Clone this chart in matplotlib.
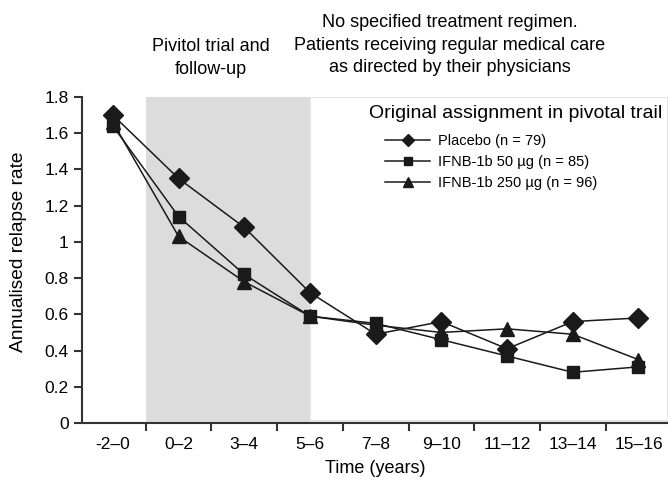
import matplotlib.pyplot as plt
import matplotlib.patches as mpatches
import numpy as np

plt.rcParams['font.family'] = ['Liberation Sans', 'DejaVu Sans']

periods = ['-2\u20130', '0\u20132', '3\u20134', '5\u20136', '7\u20138', '9\u201310',
           '11\u201312', '13\u201314', '15\u201316']
placebo = [1.70, 1.35, 1.08, 0.72, 0.49, 0.56, 0.41, 0.56, 0.58]
ifnb50 = [1.64, 1.14, 0.82, 0.59, 0.55, 0.46, 0.37, 0.28, 0.31]
ifnb250 = [1.66, 1.03, 0.78, 0.59, 0.54, 0.50, 0.52, 0.49, 0.35]
series_labels = ['Placebo (n = 79)', 'IFNB-1b 50 \u00b5g (n = 85)', 'IFNB-1b 250 \u00b5g (n = 96)']

x = np.arange(len(periods))

fig = plt.figure(figsize=(6.68, 4.79), dpi=100)
ax = fig.add_axes([0.1228, 0.1169, 0.8772, 0.6806])

line_col = '#1a1a1a'
# shaded pivotal trial period and the white box on the right
ax.add_patch(mpatches.Rectangle((0.5, 0), 2.5, 1.8, facecolor='#dcdcdc', edgecolor='none', zorder=0))
ax.add_patch(mpatches.Rectangle((3.0, 0.01), 5.45, 1.79, facecolor='white', edgecolor='#e2e2e2',
                                lw=1.2, zorder=0.5))

ax.plot(x, placebo, marker='D', ms=10, color=line_col, lw=1.1, label=series_labels[0], zorder=3)
ax.plot(x, ifnb50, marker='s', ms=9, color=line_col, lw=1.1, label=series_labels[1], zorder=3)
ax.plot(x, ifnb250, marker='^', ms=10, color=line_col, lw=1.1, label=series_labels[2], zorder=3)

ax.set_xlim(-0.47, 8.45)
ax.set_ylim(0, 1.8)
ax.set_yticks([0, 0.2, 0.4, 0.6, 0.8, 1, 1.2, 1.4, 1.6, 1.8])
ax.set_yticklabels(['0', '0.2', '0.4', '0.6', '0.8', '1', '1.2', '1.4', '1.6', '1.8'])
ax.set_xticks(x)
ax.set_xticklabels(periods)
ax.set_xticks(x[:-1] + 0.5, minor=True)
ax.tick_params(axis='x', which='major', length=0, labelsize=12.5, pad=10)
ax.tick_params(axis='x', which='minor', length=6, width=1.5, color='#333333')
ax.tick_params(axis='y', length=6, width=1.5, color='#333333', labelsize=12.5)
for s in ['top', 'right']:
    ax.spines[s].set_visible(False)
for s in ['left', 'bottom']:
    ax.spines[s].set_linewidth(1.5)
    ax.spines[s].set_color('#333333')

ax.set_ylabel('Annualised relapse rate', fontsize=13.8)
ax.yaxis.set_label_coords(-0.094, 0.525)
ax.set_xlabel('Time (years)', fontsize=13)
ax.xaxis.set_label_coords(0.5, -0.115)

leg = ax.legend(loc='upper left', bbox_to_anchor=(0.517, 0.885), frameon=False, fontsize=10.5,
                handlelength=3.1, handletextpad=0.55, labelspacing=0.45, borderaxespad=0,
                borderpad=0, markerscale=0.65)
ax.text(0.99, 0.975, 'Original assignment in pivotal trail', transform=ax.transAxes,
        ha='right', va='top', fontsize=14)

fig.text(211 / 668, 1 - 58 / 479, 'Pivitol trial and\nfollow-up', ha='center', va='center',
         fontsize=13, linespacing=1.4)
fig.text(450 / 668, 1 - 45 / 479,
         'No specified treatment regimen.\nPatients receiving regular medical care\nas directed by their physicians',
         ha='center', va='center', fontsize=13, linespacing=1.4)

fig.savefig('out.png', dpi=100)
